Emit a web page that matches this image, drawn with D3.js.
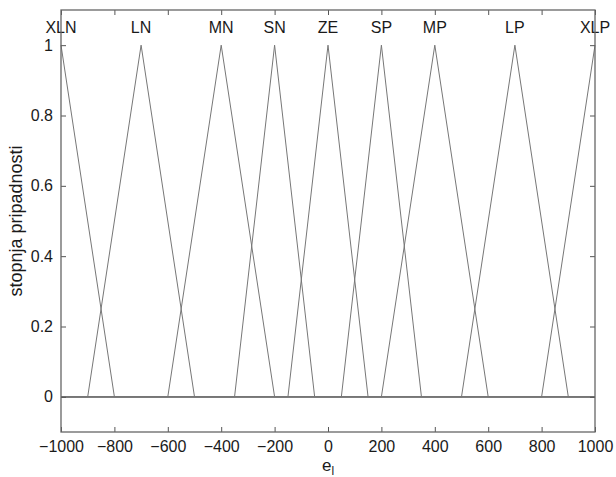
<!DOCTYPE html>
<html>
<head>
<meta charset="utf-8">
<script src="https://cdn.jsdelivr.net/npm/d3@7"></script>
<style>
  html, body { margin: 0; padding: 0; background: #fff; }
  svg { display: block; font-family: "Liberation Sans", Arial, Helvetica, sans-serif; }
</style>
</head>
<body>
<svg id="chart" width="616" height="477"></svg>
<script>
// Fuzzy sets of the input e_l: triangular membership functions [a, b, c]
const mfNames  = ["XLN", "LN", "MN", "SN", "ZE", "SP", "MP", "LP", "XLP"];
const mfParams = [
  [-1200, -1000, -800],
  [-900, -700, -500],
  [-600, -400, -200],
  [-350, -200, -50],
  [-150, 0, 150],
  [50, 200, 350],
  [200, 400, 600],
  [500, 700, 900],
  [800, 1000, 1200]
];
const xRange  = [-1000, 1000];
const xTicks  = [-1000, -800, -600, -400, -200, 0, 200, 400, 600, 800, 1000];
const yTicks  = [0, 0.2, 0.4, 0.6, 0.8, 1];
const yLabels = ["0", "0.2", "0.4", "0.6", "0.8", "1"];

const svg = d3.select("#chart");
const box = { left: 61, right: 595, top: 10, bottom: 432 };

const x = d3.scaleLinear().domain(xRange).range([box.left, box.right]);
const y = d3.scaleLinear().domain([-0.1, 1.1]).range([box.bottom, box.top]);

// triangular membership value
function trimf(v, [a, b, c]) {
  const left  = b === a ? (v >= b ? 1 : 0) : (v - a) / (b - a);
  const right = c === b ? (v <= b ? 1 : 0) : (c - v) / (c - b);
  return Math.max(0, Math.min(left, right));
}

// breakpoints of each function, clipped to the plotted universe
function curve(p) {
  const xs = [xRange[0], ...p, xRange[1]]
    .filter(v => v >= xRange[0] && v <= xRange[1])
    .sort((m, n) => m - n);
  return Array.from(new Set(xs)).map(v => [v, trimf(v, p)]);
}

const line = d3.line().x(d => x(d[0])).y(d => y(d[1]));
const tickColor = "#555";
const textColor = "#1a1a1a";
const fontSize = 16;

// membership curves
svg.append("g")
  .attr("fill", "none")
  .attr("stroke", "#777")
  .attr("stroke-width", 1)
  .selectAll("path")
  .data(mfParams)
  .join("path")
  .attr("d", p => line(curve(p)));

// set names above the peaks
svg.append("g")
  .attr("font-size", fontSize)
  .attr("fill", textColor)
  .attr("text-anchor", "middle")
  .selectAll("text")
  .data(mfNames)
  .join("text")
  .attr("x", (d, i) => x(mfParams[i][1]))
  .attr("y", y(1) - 12)
  .text(d => d);

// bottom / left axes with ticks pointing inward
const xAxis = d3.axisBottom(x).tickValues(xTicks).tickSizeInner(-5).tickSizeOuter(0)
  .tickPadding(9).tickFormat(d => d3.format("")(d).replace("-", "\u2212"));
const gx = svg.append("g").attr("transform", `translate(0,${box.bottom})`).call(xAxis);

const yAxis = d3.axisLeft(y).tickValues(yTicks).tickSizeInner(-5).tickSizeOuter(0)
  .tickPadding(8).tickFormat((d, i) => yLabels[i]);
const gy = svg.append("g").attr("transform", `translate(${box.left},0)`).call(yAxis);

// mirrored ticks on the top and right edges
const gxt = svg.append("g").attr("transform", `translate(0,${box.top})`)
  .call(d3.axisTop(x).tickValues(xTicks).tickSizeInner(-5).tickSizeOuter(0).tickFormat(""));
const gyr = svg.append("g").attr("transform", `translate(${box.right},0)`)
  .call(d3.axisRight(y).tickValues(yTicks).tickSizeInner(-5).tickSizeOuter(0).tickFormat(""));

[gx, gy, gxt, gyr].forEach(g => {
  g.select(".domain").remove();
  g.selectAll(".tick line").attr("stroke", tickColor);
  g.selectAll(".tick text")
    .attr("font-size", fontSize)
    .attr("font-family", "Liberation Sans, Arial, sans-serif")
    .attr("fill", textColor);
});

// frame
svg.append("rect")
  .attr("x", box.left).attr("y", box.top)
  .attr("width", box.right - box.left).attr("height", box.bottom - box.top)
  .attr("fill", "none").attr("stroke", "#666").attr("stroke-width", 1.3);

// axis titles
const xt = svg.append("text")
  .attr("x", x(0)).attr("y", 471)
  .attr("font-size", 17).attr("fill", textColor)
  .attr("text-anchor", "middle");
xt.append("tspan").text("e");
xt.append("tspan").attr("font-size", 12).attr("dy", 4).text("l");

svg.append("text")
  .attr("transform", `translate(22,${(box.top + box.bottom) / 2}) rotate(-90)`)
  .attr("font-size", 18).attr("fill", textColor)
  .attr("text-anchor", "middle")
  .text("stopnja pripadnosti");
</script>
</body>
</html>
